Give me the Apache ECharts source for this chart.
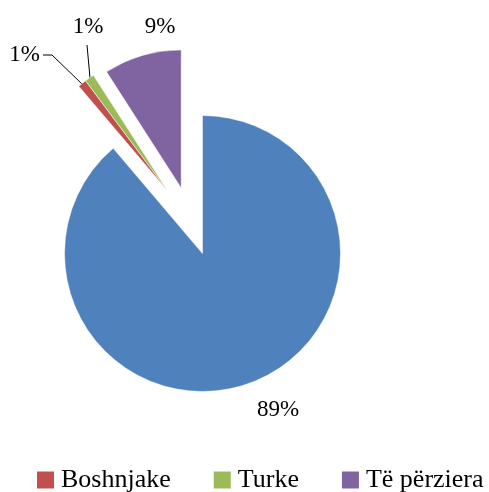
<!DOCTYPE html>
<html>
<head>
<meta charset="utf-8">
<script src="https://cdn.jsdelivr.net/npm/echarts@6/dist/echarts.min.js"></script>
<style>
  html, body { margin: 0; padding: 0; background: #fff; }
  #main { width: 489px; height: 492px; }
</style>
</head>
<body>
<div id="main"></div>
<script>
var names = ['Shqiptare', 'Boshnjake', 'Turke', 'Të përziera'];
var values = [88.8, 1.0, 1.1, 9.1];
var colors = ['#4F81BD', '#C0504D', '#9BBB59', '#8064A2'];
var legendNames = ['Boshnjake', 'Turke', 'Të përziera'];

// pie geometry
var cx = 202.5, cy = 253.5, R = 138;
// how far and which way (degrees clockwise from 12 o'clock) each slice is pulled out
var pullDist = [0, 71, 71, 69];
var pullDir = [0, 331, 331, 342];

// where the percent labels sit (Excel put them by hand)
var labelPos = [
    { x: 278, y: 410, align: 'center' },
    { x: 40, y: 55, align: 'right' },
    { x: 88, y: 27, align: 'center' },
    { x: 160, y: 27, align: 'center' }
];
var leaderLines = [null, [[82, 84], [52, 55], [43, 55]], [[90, 78], [87, 45]], null];

var myChart = echarts.init(document.getElementById('main'));

// one pie per slice so the small ones can be pulled out on their own
function sliceSeries(k) {
    var a = pullDir[k] * Math.PI / 180;
    var data = values.map(function (v, i) {
        if (i === k) {
            return { name: names[i], value: v, itemStyle: { color: colors[i] } };
        }
        return {
            name: '', value: v,
            itemStyle: { color: 'transparent', borderWidth: 0 },
            label: { show: false }, labelLine: { show: false }
        };
    });
    return {
        type: 'pie',
        center: [cx + pullDist[k] * Math.sin(a), cy - pullDist[k] * Math.cos(a)],
        radius: R,
        startAngle: 90,
        clockwise: true,
        percentPrecision: 0,
        avoidLabelOverlap: false,
        silent: true,
        itemStyle: { borderColor: '#fff', borderWidth: 0.5 },
        label: {
            show: true,
            position: 'outside',
            formatter: '{d}%',
            fontFamily: 'Liberation Serif',
            fontSize: 23,
            color: '#000'
        },
        labelLine: {
            show: !!leaderLines[k],
            lineStyle: { color: '#000', width: 1 }
        },
        emphasis: { disabled: true },
        labelLayout: function (p) {
            if (p.dataIndex !== k) return {};
            var pos = labelPos[k];
            var res = { x: pos.x, y: pos.y, align: pos.align, verticalAlign: 'middle' };
            if (leaderLines[k]) res.labelLinePoints = leaderLines[k];
            return res;
        },
        data: data
    };
}

option = {
    animation: false,
    legend: {
        data: legendNames,
        left: 37,
        top: 467,
        padding: 0,
        itemWidth: 17,
        itemHeight: 17,
        itemGap: 43,
        icon: 'rect',
        itemStyle: { borderWidth: 0 },
        textStyle: {
            fontFamily: 'Liberation Serif',
            fontSize: 26,
            color: '#000',
            padding: [0, 0, 0, 2]
        }
    },
    series: [1, 2, 3, 0].map(sliceSeries)
};

myChart.setOption(option);
</script>
</body>
</html>
